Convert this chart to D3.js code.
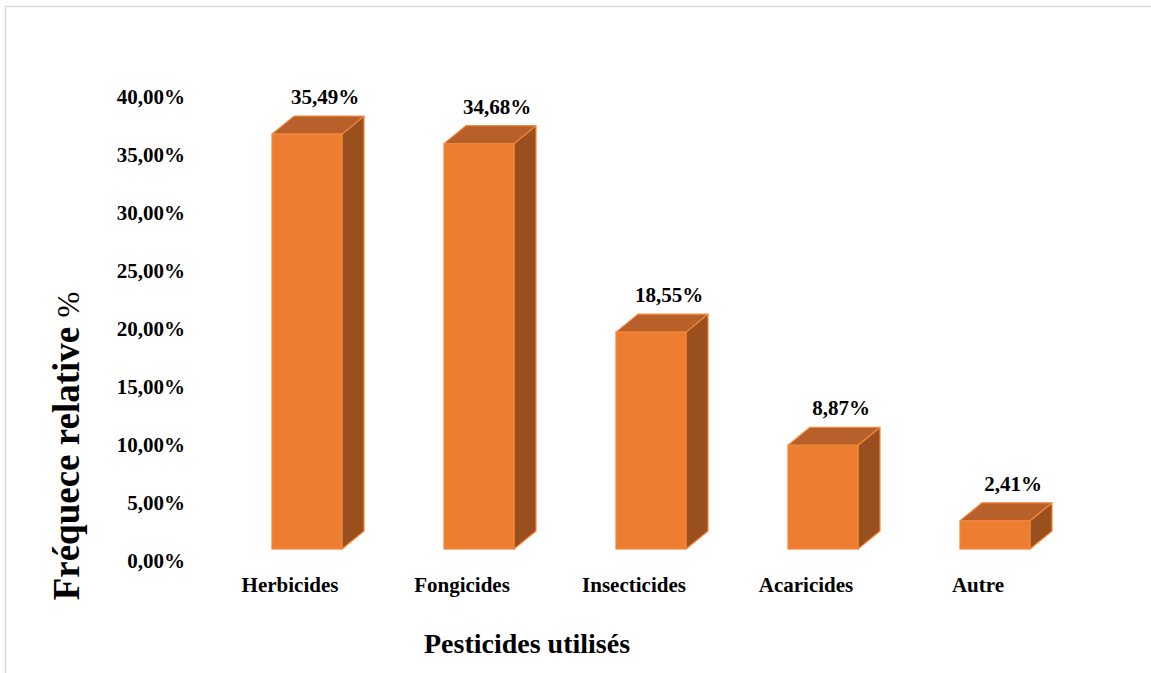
<!DOCTYPE html>
<html>
<head>
<meta charset="utf-8">
<script src="https://cdn.jsdelivr.net/npm/d3@7/dist/d3.min.js"></script>
<style>
  html, body { margin: 0; padding: 0; background: #fff; }
  svg { display: block; }
  text { font-family: "Liberation Serif", "Times New Roman", serif; font-weight: bold; fill: #000; }
</style>
</head>
<body>
<svg id="chart" width="1151" height="673"></svg>
<script>
const categories = ["Herbicides", "Fongicides", "Insecticides", "Acaricides", "Autre"];
const values = [35.49, 34.68, 18.55, 8.87, 2.41];
const valueLabels = ["35,49%", "34,68%", "18,55%", "8,87%", "2,41%"];
const tickValues = [0, 5, 10, 15, 20, 25, 30, 35, 40];
const tickLabels = ["0,00%", "5,00%", "10,00%", "15,00%", "20,00%", "25,00%", "30,00%", "35,00%", "40,00%"];
const yTitle = "Fréquece relative";
const xTitle = "Pesticides utilisés";

const svg = d3.select("#chart");
const W = 1151, H = 673;

// chart border
svg.append("rect")
  .attr("x", 5.5).attr("y", 6.5)
  .attr("width", W + 20).attr("height", H + 20)
  .attr("fill", "none").attr("stroke", "#D9D9D9").attr("stroke-width", 1.5);

// scales
const x = d3.scalePoint().domain(categories).range([307, 995]);
const yBar = d3.scaleLinear().domain([0, 40]).range([549, 81.4]);
const yAxis = d3.scaleLinear().domain([0, 40]).range([560, 96]);

const barW = 70, dx = 22, dy = -18;
const cFront = "#ED7D31", cTop = "#B7602A", cSide = "#9A4F1F", cEdge = "#F3873A";

// y axis labels (no line)
const axisG = svg.append("g").attr("transform", "translate(185,0)")
  .call(d3.axisLeft(yAxis).tickValues(tickValues)
    .tickFormat((d, i) => tickLabels[i]).tickSize(0).tickPadding(0));
axisG.select(".domain").remove();
axisG.selectAll("text")
  .style("font-family", "'Liberation Serif', 'Times New Roman', serif")
  .style("font-weight", "bold")
  .style("font-size", "21px")
  .style("fill", "#000")
  .attr("dy", "0.35em");

// bars
const bars = svg.append("g").selectAll("g.bar")
  .data(categories.map((c, i) => ({ c, v: values[i], lab: valueLabels[i] })))
  .join("g").attr("class", "bar");

bars.each(function(d) {
  const g = d3.select(this);
  const x0 = x(d.c) - barW / 2, x1 = x0 + barW;
  const yt = yBar(d.v), yb = yBar(0);
  // side face
  g.append("path")
    .attr("d", `M${x1},${yt} L${x1 + dx},${yt + dy} L${x1 + dx},${yb + dy} L${x1},${yb} Z`)
    .attr("fill", cSide).attr("stroke", cEdge).attr("stroke-width", 1.2).attr("stroke-linejoin", "round");
  // top face
  g.append("path")
    .attr("d", `M${x0},${yt} L${x0 + dx},${yt + dy} L${x1 + dx},${yt + dy} L${x1},${yt} Z`)
    .attr("fill", cTop).attr("stroke", cEdge).attr("stroke-width", 1.2).attr("stroke-linejoin", "round");
  // front face
  g.append("rect")
    .attr("x", x0).attr("y", yt).attr("width", barW).attr("height", yb - yt)
    .attr("fill", cFront).attr("stroke", cEdge).attr("stroke-width", 1.2);
  // value label
  g.append("text")
    .attr("x", x(d.c) + 18).attr("y", yt + dy - 12)
    .attr("text-anchor", "middle").attr("font-size", 21)
    .text(d.lab);
});

// category labels
svg.append("g").selectAll("text")
  .data(categories).join("text")
  .attr("x", d => x(d) - 17).attr("y", 592)
  .attr("text-anchor", "middle").attr("font-size", 21)
  .text(d => d);

// x title
svg.append("text")
  .attr("x", 527).attr("y", 653)
  .attr("text-anchor", "middle").attr("font-size", 28)
  .text(xTitle);

// y title
const yt = svg.append("text")
  .attr("transform", "translate(79,446) rotate(-90)")
  .attr("text-anchor", "middle").attr("font-size", 37);
yt.append("tspan").text(yTitle + " ");
yt.append("tspan").attr("font-size", 31).attr("font-weight", "normal").text("%");
</script>
</body>
</html>
